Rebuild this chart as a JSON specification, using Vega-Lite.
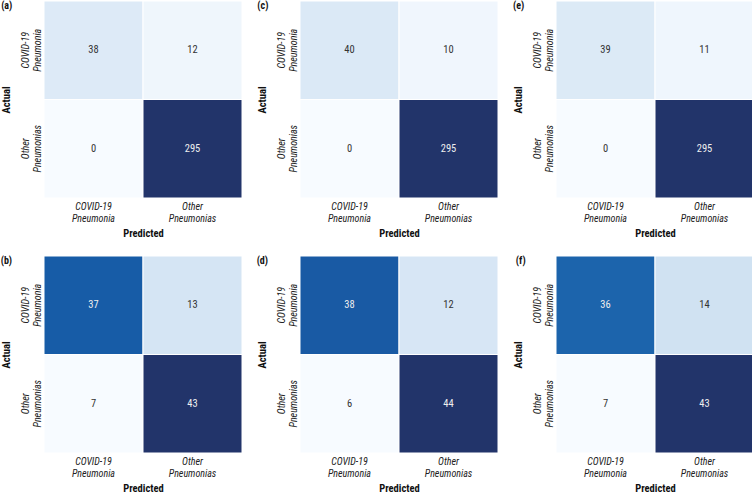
{
  "$schema": "https://vega.github.io/schema/vega-lite/v6.json",
  "padding": {"left": 0, "top": 0, "right": 1, "bottom": 1},
  "autosize": {"type": "pad"},
  "background": "white",
  "datasets": {
    "cm": [
      {"panel": "a", "actual": "COVID-19 Pneumonia", "predicted": "COVID-19 Pneumonia", "count": 38},
      {"panel": "a", "actual": "COVID-19 Pneumonia", "predicted": "Other Pneumonias", "count": 12},
      {"panel": "a", "actual": "Other Pneumonias", "predicted": "COVID-19 Pneumonia", "count": 0},
      {"panel": "a", "actual": "Other Pneumonias", "predicted": "Other Pneumonias", "count": 295},
      {"panel": "c", "actual": "COVID-19 Pneumonia", "predicted": "COVID-19 Pneumonia", "count": 40},
      {"panel": "c", "actual": "COVID-19 Pneumonia", "predicted": "Other Pneumonias", "count": 10},
      {"panel": "c", "actual": "Other Pneumonias", "predicted": "COVID-19 Pneumonia", "count": 0},
      {"panel": "c", "actual": "Other Pneumonias", "predicted": "Other Pneumonias", "count": 295},
      {"panel": "e", "actual": "COVID-19 Pneumonia", "predicted": "COVID-19 Pneumonia", "count": 39},
      {"panel": "e", "actual": "COVID-19 Pneumonia", "predicted": "Other Pneumonias", "count": 11},
      {"panel": "e", "actual": "Other Pneumonias", "predicted": "COVID-19 Pneumonia", "count": 0},
      {"panel": "e", "actual": "Other Pneumonias", "predicted": "Other Pneumonias", "count": 295},
      {"panel": "b", "actual": "COVID-19 Pneumonia", "predicted": "COVID-19 Pneumonia", "count": 37},
      {"panel": "b", "actual": "COVID-19 Pneumonia", "predicted": "Other Pneumonias", "count": 13},
      {"panel": "b", "actual": "Other Pneumonias", "predicted": "COVID-19 Pneumonia", "count": 7},
      {"panel": "b", "actual": "Other Pneumonias", "predicted": "Other Pneumonias", "count": 43},
      {"panel": "d", "actual": "COVID-19 Pneumonia", "predicted": "COVID-19 Pneumonia", "count": 38},
      {"panel": "d", "actual": "COVID-19 Pneumonia", "predicted": "Other Pneumonias", "count": 12},
      {"panel": "d", "actual": "Other Pneumonias", "predicted": "COVID-19 Pneumonia", "count": 6},
      {"panel": "d", "actual": "Other Pneumonias", "predicted": "Other Pneumonias", "count": 44},
      {"panel": "f", "actual": "COVID-19 Pneumonia", "predicted": "COVID-19 Pneumonia", "count": 36},
      {"panel": "f", "actual": "COVID-19 Pneumonia", "predicted": "Other Pneumonias", "count": 14},
      {"panel": "f", "actual": "Other Pneumonias", "predicted": "COVID-19 Pneumonia", "count": 7},
      {"panel": "f", "actual": "Other Pneumonias", "predicted": "Other Pneumonias", "count": 43}
    ]
  },
  "columns": 3,
  "spacing": {"row": 16, "column": 13},
  "concat": [
    {
      "data": {"name": "cm"},
      "transform": [{"filter": "datum.panel === 'a'"}, {"joinaggregate": [{"op": "max", "field": "count", "as": "mx"}]}],
      "title": {"text": "(a)"},
      "width": 198, "height": 197,
      "encoding": {
        "x": {"field": "predicted", "type": "nominal", "sort": ["COVID-19 Pneumonia", "Other Pneumonias"], "title": "Predicted"},
        "y": {"field": "actual", "type": "nominal", "sort": ["COVID-19 Pneumonia", "Other Pneumonias"], "title": "Actual", "axis": {"labelAngle": -90, "labelAlign": "center", "labelBaseline": "bottom", "labelPadding": 13.5, "titlePadding": 9}}
      },
      "layer": [
        {"mark": {"type": "rect", "stroke": "white", "strokeWidth": 1}, "encoding": {"color": {"field": "count", "type": "quantitative", "legend": null, "scale": {"type": "linear", "zero": false, "nice": false, "range": ["#f7fbff", "#d5e5f4", "#b5d3ea", "#78b2d9", "#3d8cc4", "#175ca7", "#22346a"]}}}},
        {"mark": {"type": "text", "fontSize": 10.5}, "encoding": {"text": {"field": "count"}, "color": {"condition": {"test": "datum.count > datum.mx * 0.6", "value": "#eeeeee"}, "value": "#333333"}}}
      ]
    },
    {
      "data": {"name": "cm"},
      "transform": [{"filter": "datum.panel === 'c'"}, {"joinaggregate": [{"op": "max", "field": "count", "as": "mx"}]}],
      "title": {"text": "(c)"},
      "width": 198, "height": 197,
      "encoding": {
        "x": {"field": "predicted", "type": "nominal", "sort": ["COVID-19 Pneumonia", "Other Pneumonias"], "title": "Predicted"},
        "y": {"field": "actual", "type": "nominal", "sort": ["COVID-19 Pneumonia", "Other Pneumonias"], "title": "Actual", "axis": {"labelAngle": -90, "labelAlign": "center", "labelBaseline": "bottom", "labelPadding": 13.5, "titlePadding": 9}}
      },
      "layer": [
        {"mark": {"type": "rect", "stroke": "white", "strokeWidth": 1}, "encoding": {"color": {"field": "count", "type": "quantitative", "legend": null, "scale": {"type": "linear", "zero": false, "nice": false, "range": ["#f7fbff", "#d5e5f4", "#b5d3ea", "#78b2d9", "#3d8cc4", "#175ca7", "#22346a"]}}}},
        {"mark": {"type": "text", "fontSize": 10.5}, "encoding": {"text": {"field": "count"}, "color": {"condition": {"test": "datum.count > datum.mx * 0.6", "value": "#eeeeee"}, "value": "#333333"}}}
      ]
    },
    {
      "data": {"name": "cm"},
      "transform": [{"filter": "datum.panel === 'e'"}, {"joinaggregate": [{"op": "max", "field": "count", "as": "mx"}]}],
      "title": {"text": "(e)"},
      "width": 198, "height": 197,
      "encoding": {
        "x": {"field": "predicted", "type": "nominal", "sort": ["COVID-19 Pneumonia", "Other Pneumonias"], "title": "Predicted"},
        "y": {"field": "actual", "type": "nominal", "sort": ["COVID-19 Pneumonia", "Other Pneumonias"], "title": "Actual", "axis": {"labelAngle": -90, "labelAlign": "center", "labelBaseline": "bottom", "labelPadding": 13.5, "titlePadding": 9}}
      },
      "layer": [
        {"mark": {"type": "rect", "stroke": "white", "strokeWidth": 1}, "encoding": {"color": {"field": "count", "type": "quantitative", "legend": null, "scale": {"type": "linear", "zero": false, "nice": false, "range": ["#f7fbff", "#d5e5f4", "#b5d3ea", "#78b2d9", "#3d8cc4", "#175ca7", "#22346a"]}}}},
        {"mark": {"type": "text", "fontSize": 10.5}, "encoding": {"text": {"field": "count"}, "color": {"condition": {"test": "datum.count > datum.mx * 0.6", "value": "#eeeeee"}, "value": "#333333"}}}
      ]
    },
    {
      "data": {"name": "cm"},
      "transform": [{"filter": "datum.panel === 'b'"}, {"joinaggregate": [{"op": "max", "field": "count", "as": "mx"}]}],
      "title": {"text": "(b)"},
      "width": 198, "height": 197,
      "encoding": {
        "x": {"field": "predicted", "type": "nominal", "sort": ["COVID-19 Pneumonia", "Other Pneumonias"], "title": "Predicted"},
        "y": {"field": "actual", "type": "nominal", "sort": ["COVID-19 Pneumonia", "Other Pneumonias"], "title": "Actual", "axis": {"labelAngle": -90, "labelAlign": "center", "labelBaseline": "bottom", "labelPadding": 13.5, "titlePadding": 9}}
      },
      "layer": [
        {"mark": {"type": "rect", "stroke": "white", "strokeWidth": 1}, "encoding": {"color": {"field": "count", "type": "quantitative", "legend": null, "scale": {"type": "linear", "zero": false, "nice": false, "range": ["#f7fbff", "#d5e5f4", "#b5d3ea", "#78b2d9", "#3d8cc4", "#175ca7", "#22346a"]}}}},
        {"mark": {"type": "text", "fontSize": 10.5}, "encoding": {"text": {"field": "count"}, "color": {"condition": {"test": "datum.count > datum.mx * 0.6", "value": "#eeeeee"}, "value": "#333333"}}}
      ]
    },
    {
      "data": {"name": "cm"},
      "transform": [{"filter": "datum.panel === 'd'"}, {"joinaggregate": [{"op": "max", "field": "count", "as": "mx"}]}],
      "title": {"text": "(d)"},
      "width": 198, "height": 197,
      "encoding": {
        "x": {"field": "predicted", "type": "nominal", "sort": ["COVID-19 Pneumonia", "Other Pneumonias"], "title": "Predicted"},
        "y": {"field": "actual", "type": "nominal", "sort": ["COVID-19 Pneumonia", "Other Pneumonias"], "title": "Actual", "axis": {"labelAngle": -90, "labelAlign": "center", "labelBaseline": "bottom", "labelPadding": 13.5, "titlePadding": 9}}
      },
      "layer": [
        {"mark": {"type": "rect", "stroke": "white", "strokeWidth": 1}, "encoding": {"color": {"field": "count", "type": "quantitative", "legend": null, "scale": {"type": "linear", "zero": false, "nice": false, "range": ["#f7fbff", "#d5e5f4", "#b5d3ea", "#78b2d9", "#3d8cc4", "#175ca7", "#22346a"]}}}},
        {"mark": {"type": "text", "fontSize": 10.5}, "encoding": {"text": {"field": "count"}, "color": {"condition": {"test": "datum.count > datum.mx * 0.6", "value": "#eeeeee"}, "value": "#333333"}}}
      ]
    },
    {
      "data": {"name": "cm"},
      "transform": [{"filter": "datum.panel === 'f'"}, {"joinaggregate": [{"op": "max", "field": "count", "as": "mx"}]}],
      "title": {"text": "(f)"},
      "width": 198, "height": 197,
      "encoding": {
        "x": {"field": "predicted", "type": "nominal", "sort": ["COVID-19 Pneumonia", "Other Pneumonias"], "title": "Predicted"},
        "y": {"field": "actual", "type": "nominal", "sort": ["COVID-19 Pneumonia", "Other Pneumonias"], "title": "Actual", "axis": {"labelAngle": -90, "labelAlign": "center", "labelBaseline": "bottom", "labelPadding": 13.5, "titlePadding": 9}}
      },
      "layer": [
        {"mark": {"type": "rect", "stroke": "white", "strokeWidth": 1}, "encoding": {"color": {"field": "count", "type": "quantitative", "legend": null, "scale": {"type": "linear", "zero": false, "nice": false, "range": ["#f7fbff", "#d5e5f4", "#b5d3ea", "#78b2d9", "#3d8cc4", "#175ca7", "#22346a"]}}}},
        {"mark": {"type": "text", "fontSize": 10.5}, "encoding": {"text": {"field": "count"}, "color": {"condition": {"test": "datum.count > datum.mx * 0.6", "value": "#eeeeee"}, "value": "#333333"}}}
      ]
    }
  ],
  "resolve": {"scale": {"color": "independent"}},
  "config": {
    "font": "Roboto Condensed, Liberation Sans Narrow, Roboto, sans-serif",
    "view": {"stroke": null},
    "axis": {
      "ticks": false,
      "domain": false,
      "grid": false,
      "labelFontSize": 10,
      "labelFontStyle": "italic",
      "labelColor": "#222222",
      "labelLineHeight": 12,
      "labelPadding": 3,
      "labelExpr": "split(datum.label, ' ')",
      "titleFontSize": 10.5,
      "titleFontWeight": "bold",
      "titleColor": "#111111"
    },
    "axisX": {"labelAngle": 0, "labelAlign": "center", "labelBaseline": "top", "titlePadding": 5},
    "title": {
      "orient": "left",
      "anchor": "end",
      "frame": "group",
      "angle": 0,
      "align": "left",
      "baseline": "top",
      "offset": -22,
      "fontSize": 10,
      "fontWeight": "bold",
      "color": "#111111"
    }
  }
}
